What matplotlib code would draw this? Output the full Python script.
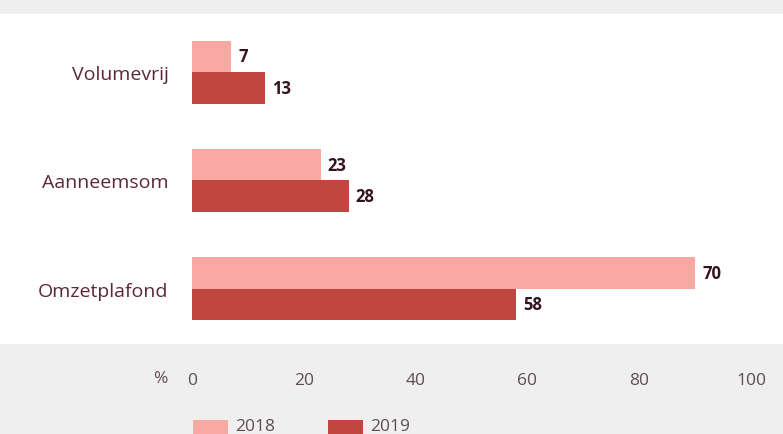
import matplotlib.pyplot as plt
from matplotlib.patches import Rectangle

categories = ["Volumevrij", "Aanneemsom", "Omzetplafond"]
years = ["2018", "2019"]
# bar lengths as drawn in the picture (the 70 bar is drawn longer than its label)
values_2018 = [7, 23, 90]
values_2019 = [13, 28, 58]
labels_2018 = ["7", "23", "70"]
labels_2019 = ["13", "28", "58"]
xticks = [0, 20, 40, 60, 80, 100]

c2018 = "#f8aaa2"
c2019 = "#bf4740"
label_col = "#35121f"
cat_col = "#5b2838"
tick_col = "#5e4e50"
font = "Open Sans"

W, H = 783, 435
fig = plt.figure(figsize=(W / 100, H / 100), dpi=100)
fig.patch.set_facecolor("#efefef")
# white panel behind the plot
fig.patches.append(Rectangle((0, 1 - 345 / H), 1, (345 - 15) / H,
                             transform=fig.transFigure, facecolor="white",
                             edgecolor="none", zorder=-10))

ax = fig.add_axes([192 / W, 1 - 345 / H, 559 / W, (345 - 20) / H])
ax.set_facecolor("none")
ax.set_zorder(1)

h = 0.29
ys = list(range(len(categories)))
ax.barh([y - h / 2 for y in ys], values_2018, height=h, color=c2018, label=years[0])
ax.barh([y + h / 2 for y in ys], values_2019, height=h, color=c2019, label=years[1])

for y, v, t in zip(ys, values_2018, labels_2018):
    ax.text(v + 1.3, y - h / 2, t, va="center", ha="left", fontsize=12,
            fontweight="bold", color=label_col, family=font)
for y, v, t in zip(ys, values_2019, labels_2019):
    ax.text(v + 1.3, y + h / 2, t, va="center", ha="left", fontsize=12,
            fontweight="bold", color=label_col, family=font)

ax.set_xlim(0, 100)
ax.set_ylim(2.51, -0.49)
ax.set_yticks(ys)
ax.set_yticklabels(categories, fontsize=14, color=cat_col, family=font)
ax.set_xticks(xticks)
ax.set_xticklabels([str(x) for x in xticks], fontsize=12.5, color=tick_col, family=font)
ax.tick_params(axis="y", length=0, pad=17)
ax.tick_params(axis="x", length=0, pad=20)
for s in ax.spines.values():
    s.set_visible(False)

fig.text(160 / W, 1 - 379 / H, "%", ha="center", va="center", fontsize=12.5,
         color=tick_col, family=font)

# legend at the bottom, near the image edge
for x0, col, yr in [(193, c2018, years[0]), (328, c2019, years[1])]:
    fig.patches.append(Rectangle((x0 / W, 1 - 437 / H), 35 / W, 16 / H,
                                 transform=fig.transFigure, facecolor=col,
                                 edgecolor="none"))
    fig.text((x0 + 42) / W, 1 - 427 / H, yr, ha="left", va="center",
             fontsize=12.5, color=tick_col, family=font)

fig.savefig("out.png", dpi=100, facecolor=fig.get_facecolor())
